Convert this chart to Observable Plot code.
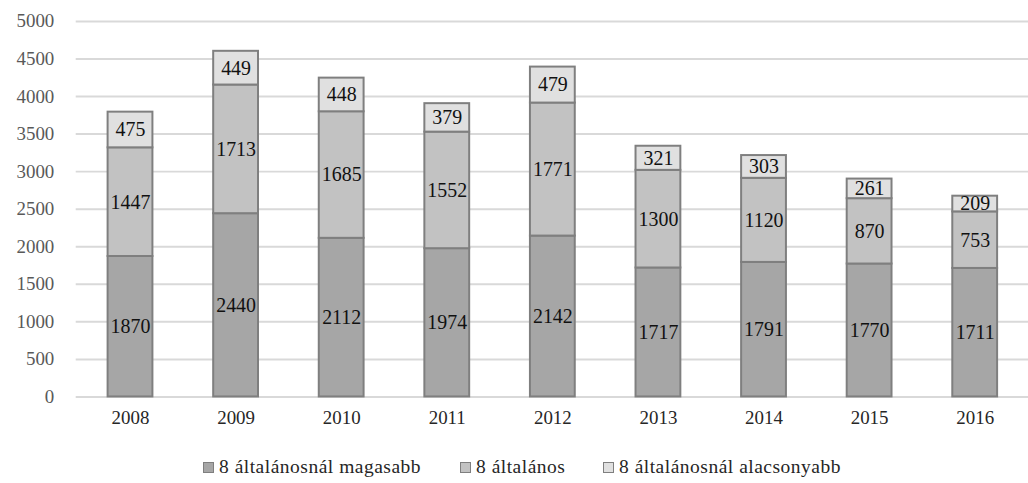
<!DOCTYPE html>
<html><head><meta charset="utf-8">
<script src="https://cdn.jsdelivr.net/npm/d3@7"></script>
<script src="https://cdn.jsdelivr.net/npm/@observablehq/plot@0.6"></script>
<style>
body{margin:0;background:#fff;overflow:hidden;width:1028px;height:483px;position:relative;font-family:"Liberation Serif","Times New Roman",serif}
#chart{position:absolute;left:0;top:0;width:1028px;overflow:hidden}
.item{position:absolute;top:456px;display:flex;align-items:center;font-size:19.5px;letter-spacing:0.5px;color:#262626;white-space:nowrap}
.sw{width:9px;height:9px;border:1px solid #7f7f7f;margin-right:5px}
</style></head><body><div id="chart"></div><div id="legend"></div><script>
const years = ["2008","2009","2010","2011","2012","2013","2014","2015","2016"];
const seriesNames = ["8 általánosnál magasabb","8 általános","8 általánosnál alacsonyabb"];
const higher = [1870,2440,2112,1974,2142,1717,1791,1770,1711];
const primary = [1447,1713,1685,1552,1771,1300,1120,870,753];
const lower = [475,449,448,379,479,321,303,261,209];
const colors = ["#a6a6a6","#c2c2c2","#e0e0e0"];
const yTicks = [0,500,1000,1500,2000,2500,3000,3500,4000,4500,5000];

const seriesValues = [higher, primary, lower];
const rows = years.flatMap((y,i)=>seriesNames.map((s,k)=>({year:y,series:s,value:seriesValues[k][i]})));
const FONT = '"Liberation Serif","Times New Roman",serif';

const chart = Plot.plot({
  width:1032, height:440,
  marginLeft:76, marginRight:0, marginTop:21, marginBottom:42,
  x:{domain:years, paddingInner:0.58, paddingOuter:0.29, label:null},
  y:{domain:[0,5000], label:null},
  color:{domain:seriesNames, range:colors},
  style:{fontFamily:FONT, fontSize:"20px", background:"#fff", overflow:"visible"},
  marks:[
    Plot.gridY(yTicks,{stroke:"#d9d9d9", strokeOpacity:1, strokeWidth:2}),
    Plot.barY(rows,{x:"year", y:"value", fill:"series", stroke:"#7f7f7f", strokeWidth:2}),
    Plot.text(rows, Plot.stackY({x:"year", y:"value", z:"series", text:d=>String(d.value), fill:"#111", fontSize:20, letterSpacing:1.2, fontFamily:FONT})),
    Plot.axisX({tickSize:0, tickPadding:14, fontSize:19, fill:"#262626", letterSpacing:1.2, fontFamily:FONT}),
    Plot.axisY(yTicks,{tickSize:0, tickPadding:22, fontSize:19, fill:"#595959", letterSpacing:1.2, tickFormat:d=>String(d), fontFamily:FONT})
  ]
});
document.getElementById("chart").appendChild(chart);

const lg = document.getElementById("legend");
const lefts = [203,460,603];
seriesNames.forEach((s,i)=>{
  const d = document.createElement("div");
  d.className="item"; d.style.left = lefts[i]+"px";
  d.innerHTML = `<span class="sw" style="background:${colors[i]}"></span><span>${s}</span>`;
  lg.appendChild(d);
});
</script></body></html>
